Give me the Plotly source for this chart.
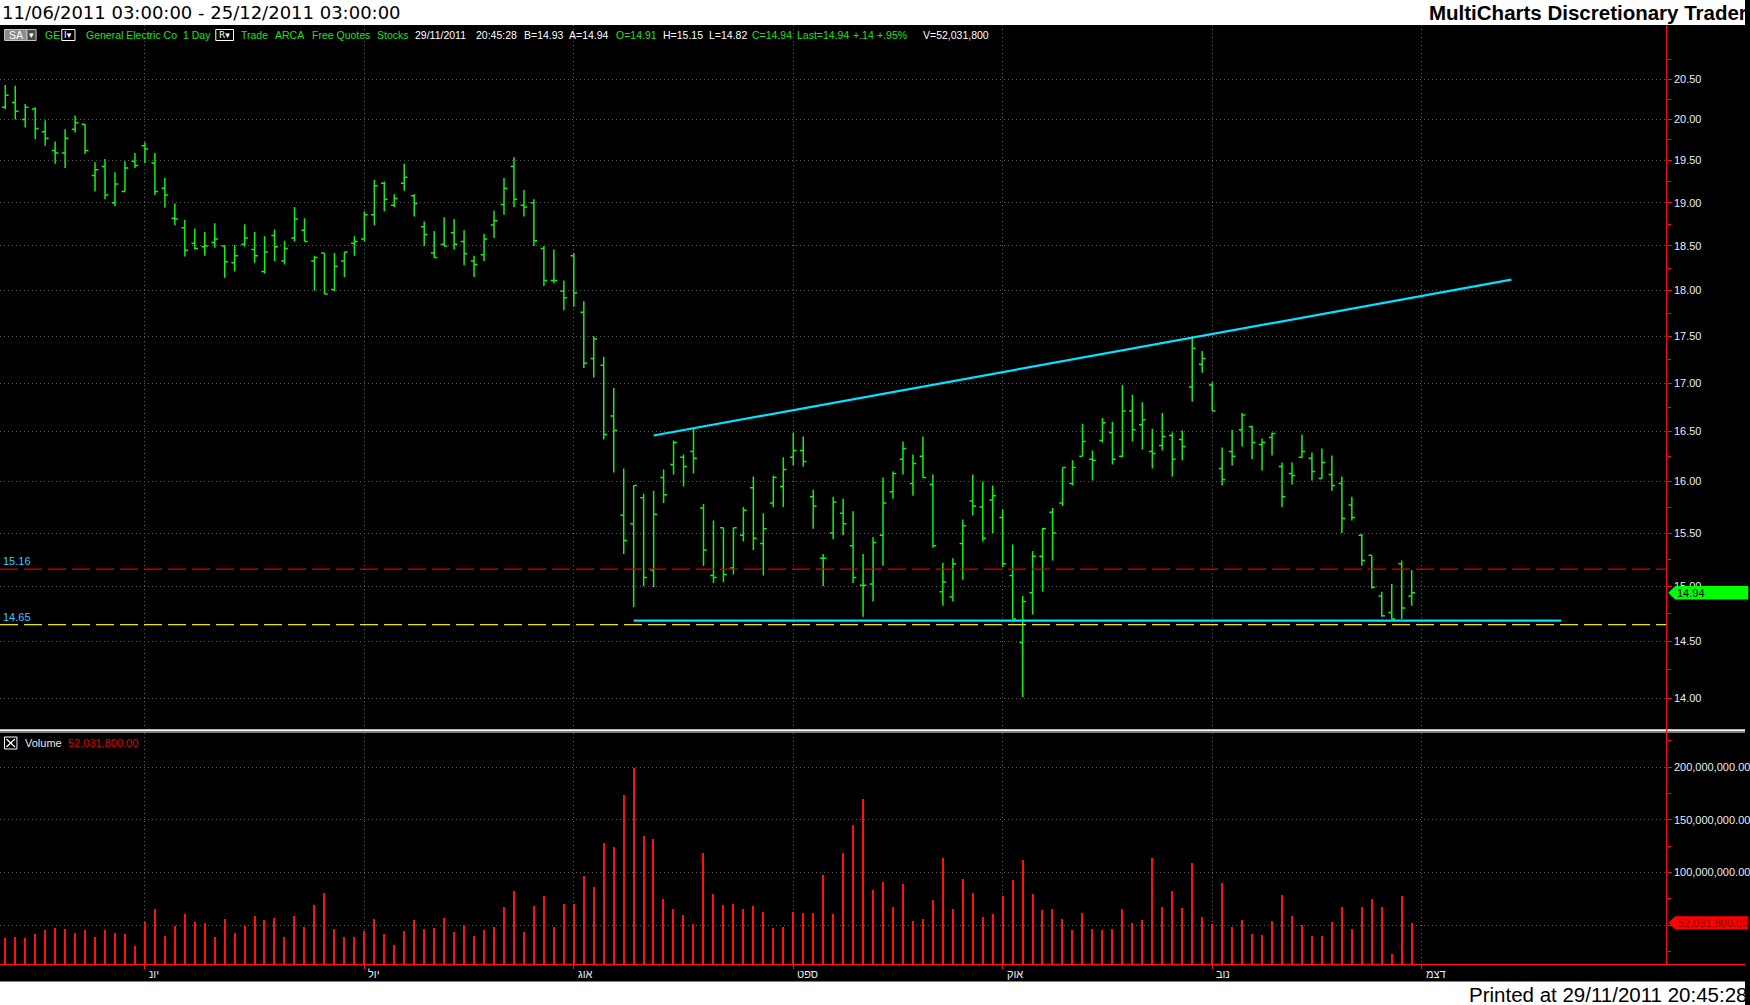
import math
import plotly.graph_objects as go

W, H = 1750, 1005

# ---------------- data ----------------
bar_index = list(range(142))
opens = [20.15, 20.21, 20.00, 20.13, 19.85, 19.62, 19.59, 19.88, 19.94, 19.32,
         19.43, 19.00, 19.13, 19.49, 19.68, 19.47, 19.17, 18.82, 18.71, 18.53,
         18.49, 18.54, 18.50, 18.31, 18.52, 18.46, 18.21, 18.62, 18.33, 18.59,
         18.68, 18.33, 18.42, 18.01, 18.33, 18.53, 18.58, 18.86, 19.23, 18.97,
         19.23, 19.08, 18.72, 18.42, 18.52, 18.65, 18.55, 18.33, 18.40, 18.74,
         18.98, 19.43, 18.97, 19.00, 18.47, 18.11, 17.99, 18.39, 17.76, 17.26,
         17.19, 16.66, 15.67, 15.59, 15.84, 15.15, 16.04, 16.17, 16.24, 16.30,
         15.74, 15.10, 15.55, 15.17, 15.48, 15.94, 15.40, 15.79, 15.95, 16.24,
         16.31, 15.85, 15.26, 15.50, 15.69, 15.38, 15.01, 15.02, 15.48, 15.90,
         16.22, 15.98, 16.25, 15.97, 14.95, 14.90, 15.40, 15.81, 15.75, 15.82,
         15.65, 15.10, 14.49, 14.94, 15.28, 15.70, 15.79, 15.98, 16.25, 16.22,
         16.41, 16.49, 16.25, 16.71, 16.57, 16.30, 16.36, 16.46, 16.42, 16.96,
         17.20, 16.98, 16.13, 16.30, 16.52, 16.55, 16.37, 16.44, 16.15, 16.08,
         16.24, 16.23, 16.03, 16.07, 15.98, 15.77, 15.48, 15.29, 14.91, 14.76,
         15.21, 14.91]
highs = [20.43, 20.42, 20.19, 20.15, 19.99, 19.73, 19.88, 20.05, 19.94, 19.48,
         19.52, 19.36, 19.49, 19.59, 19.72, 19.59, 19.29, 18.99, 18.80, 18.70,
         18.66, 18.76, 18.51, 18.51, 18.75, 18.66, 18.61, 18.69, 18.56, 18.95,
         18.82, 18.39, 18.42, 18.42, 18.43, 18.61, 18.90, 19.27, 19.25, 19.10,
         19.46, 19.10, 18.78, 18.67, 18.83, 18.81, 18.68, 18.39, 18.64, 18.91,
         19.29, 19.54, 19.15, 19.04, 18.50, 18.46, 18.11, 18.42, 17.88, 17.50,
         17.28, 16.95, 16.13, 15.96, 15.88, 15.91, 16.12, 16.41, 16.27, 16.53,
         15.78, 15.62, 15.55, 15.55, 15.75, 16.05, 15.69, 16.06, 16.24, 16.49,
         16.45, 15.92, 15.30, 15.85, 15.83, 15.71, 15.30, 15.46, 16.04, 16.10,
         16.40, 16.27, 16.45, 16.07, 15.22, 15.26, 15.63, 16.07, 16.00, 15.96,
         15.73, 15.39, 14.91, 15.33, 15.55, 15.74, 16.14, 16.21, 16.58, 16.31,
         16.64, 16.60, 16.98, 16.88, 16.80, 16.53, 16.69, 16.49, 16.51, 17.50,
         17.34, 17.01, 16.34, 16.52, 16.69, 16.56, 16.43, 16.49, 16.19, 16.19,
         16.47, 16.29, 16.33, 16.26, 16.05, 15.85, 15.49, 15.29, 14.95, 15.02,
         15.24, 15.15]
lows = [20.13, 20.00, 19.90, 19.76, 19.68, 19.46, 19.41, 19.84, 19.58, 19.13,
        19.04, 18.96, 19.13, 19.41, 19.47, 19.09, 18.94, 18.74, 18.38, 18.46,
        18.39, 18.48, 18.14, 18.21, 18.49, 18.31, 18.19, 18.33, 18.29, 18.55,
        18.55, 18.00, 17.96, 17.99, 18.15, 18.39, 18.55, 18.74, 18.90, 18.95,
        19.14, 18.84, 18.50, 18.37, 18.50, 18.46, 18.28, 18.15, 18.33, 18.59,
        18.86, 18.95, 18.84, 18.50, 18.05, 18.08, 17.78, 17.82, 17.16, 17.06,
        16.42, 16.09, 15.30, 14.81, 15.00, 14.99, 15.79, 16.07, 15.95, 16.08,
        15.19, 15.03, 15.04, 15.11, 15.42, 15.34, 15.10, 15.75, 15.75, 16.16,
        16.15, 15.54, 15.00, 15.44, 15.48, 15.03, 14.72, 14.86, 15.19, 15.83,
        16.07, 15.86, 16.04, 15.36, 14.82, 14.86, 15.06, 15.67, 15.42, 15.50,
        15.18, 14.70, 14.01, 14.74, 14.95, 15.24, 15.76, 15.96, 16.25, 16.01,
        16.39, 16.17, 16.24, 16.40, 16.32, 16.13, 16.31, 16.05, 16.21, 16.81,
        17.11, 16.71, 15.96, 16.16, 16.35, 16.22, 16.11, 16.26, 15.75, 15.97,
        16.23, 16.01, 16.03, 15.91, 15.50, 15.62, 15.19, 14.98, 14.72, 14.70,
        14.70, 14.82]
closes = [20.30, 20.10, 20.15, 19.89, 19.77, 19.59, 19.77, 19.96, 19.62, 19.39,
          19.09, 19.22, 19.41, 19.44, 19.64, 19.13, 19.09, 18.81, 18.45, 18.47,
          18.50, 18.58, 18.32, 18.39, 18.59, 18.39, 18.43, 18.49, 18.47, 18.81,
          18.55, 18.37, 17.96, 18.27, 18.43, 18.55, 18.86, 19.20, 19.04, 19.05,
          19.30, 18.99, 18.63, 18.37, 18.50, 18.52, 18.41, 18.29, 18.58, 18.79,
          19.17, 19.04, 18.95, 18.56, 18.11, 18.11, 17.92, 17.97, 17.21, 17.47,
          16.47, 16.51, 15.43, 15.96, 15.08, 15.68, 15.87, 16.39, 16.15, 16.23,
          15.34, 15.08, 15.11, 15.55, 15.72, 15.45, 15.54, 16.04, 16.12, 16.31,
          16.20, 15.76, 15.26, 15.80, 15.59, 15.08, 15.01, 15.41, 15.79, 16.08,
          16.33, 16.18, 16.04, 15.38, 15.04, 15.21, 15.57, 15.76, 15.45, 15.86,
          15.21, 14.70, 14.86, 15.28, 15.54, 15.50, 16.14, 16.14, 16.40, 16.21,
          16.59, 16.22, 16.71, 16.52, 16.62, 16.28, 16.45, 16.22, 16.35, 17.37,
          17.26, 16.71, 16.02, 16.25, 16.67, 16.39, 16.39, 16.48, 15.85, 16.06,
          16.30, 16.10, 16.19, 15.96, 15.64, 15.65, 15.24, 14.99, 14.73, 14.70,
          14.80, 14.94]
volumes_m = [38.0, 38.9, 38.0, 41.8, 45.6, 47.5, 46.5, 42.7, 45.6, 38.9,
             45.6, 42.7, 41.8, 30.4, 53.2, 65.5, 39.9, 49.4, 60.8, 53.2,
             52.2, 38.9, 56.0, 42.7, 49.4, 58.9, 55.1, 57.0, 38.9, 58.9,
             48.4, 69.3, 80.7, 46.5, 38.9, 38.9, 44.6, 56.0, 41.8, 31.3,
             44.6, 55.1, 46.5, 47.5, 57.0, 43.7, 50.3, 39.9, 45.6, 48.4,
             67.4, 82.6, 43.7, 68.4, 77.8, 48.4, 70.3, 70.3, 96.8, 86.4,
             128.2, 124.4, 173.7, 199.4, 134.8, 132.0, 75.0, 65.5, 59.8, 51.3,
             118.7, 79.7, 69.3, 70.3, 65.5, 68.4, 62.7, 47.5, 48.4, 62.7,
             61.7, 61.7, 97.8, 60.8, 118.7, 145.3, 169.9, 83.5, 91.1, 67.4,
             89.2, 54.1, 56.0, 74.1, 113.9, 65.5, 94.0, 80.7, 57.9, 60.8,
             77.8, 93.0, 112.0, 79.7, 64.6, 65.5, 56.0, 45.6, 61.7, 46.5,
             45.6, 46.5, 65.5, 52.2, 55.1, 113.9, 67.4, 82.6, 66.5, 109.2,
             57.9, 51.3, 90.2, 48.4, 55.1, 41.8, 40.8, 54.1, 78.8, 58.9,
             50.3, 39.9, 39.9, 53.2, 67.4, 46.5, 67.4, 75.0, 67.4, 22.8,
             77.8, 52.0318]
last_volume = 52031800
last_volume_text = "52,031,800.00"

month_ticks = [14, 36, 57, 79, 100, 121, 142]
month_labels = ["יונ", "יול", "אוג", "ספט", "אוק", "נוב", "דצמ"]

price_ticks = [14.0, 14.5, 15.0, 15.5, 16.0, 16.5, 17.0, 17.5, 18.0, 18.5, 19.0, 19.5, 20.0, 20.5]
price_tick_text = ["%.2f" % v for v in price_ticks]
volume_ticks = [50e6, 100e6, 150e6, 200e6]
volume_tick_text = ["", "100,000,000.00", "150,000,000.00", "200,000,000.00"]

level_red = 15.16
level_yellow = 14.65
upper_trend_x = [65, 151]
upper_trend_y = [16.46, 18.12]
lower_trend_x = [63, 156]
lower_trend_y = [14.685, 14.685]
line_x_span = [-0.53, 166.57]

status_tokens = [
    (43.6, "GE", "green"), (83.8, "General Electric Co", "green"), (181.4, "1 Day", "green"),
    (240.0, "Trade", "green"), (273.8, "ARCA", "green"), (310.6, "Free Quotes", "green"),
    (376.0, "Stocks", "green"), (414.5, "29/11/2011", "white"), (475.3, "20:45:28", "white"),
    (523.5, "B=14.93", "white"), (568.9, "A=14.94", "white"), (615.4, "O=14.91", "green"),
    (662.5, "H=15.15", "white"), (709.0, "L=14.82", "white"), (752.6, "C=14.94", "green"),
    (796.8, "Last=14.94", "green"), (853.6, "+.14", "green"), (877.5, "+.95%", "green"),
    (924.0, "V=52,031,800", "white"),
]

# ---------------- helpers ----------------
def px(x):
    return x / W

def py(y):
    return 1 - y / H

GREEN = "#12f012"
ST_GREEN = "#1ee01e"
RED = "#ff1010"
GRID = "#5e5e5e"
CYAN = "#00e4ff"
AXIS_X = 1671.5

price_top, price_bot = 25, 729
vol_top, vol_bot = 733, 964
p_top = 14 * math.exp((698.2 - price_top) / 1622.6)
p_bot = 14 * math.exp((698.2 - price_bot) / 1622.6)

fig = go.Figure()

fig.add_trace(go.Ohlc(
    x=bar_index, open=opens, high=highs, low=lows, close=closes,
    increasing=dict(line=dict(color=GREEN, width=1.5)),
    decreasing=dict(line=dict(color=GREEN, width=1.5)),
    tickwidth=0.33, hoverinfo="skip", xaxis="x", yaxis="y", showlegend=False))

fig.add_trace(go.Scatter(x=line_x_span, y=[level_red, level_red], mode="lines",
                         line=dict(color="#e00000", width=1.3, dash="18px,6px"),
                         hoverinfo="skip", showlegend=False, xaxis="x", yaxis="y"))
fig.add_trace(go.Scatter(x=line_x_span, y=[level_yellow, level_yellow], mode="lines",
                         line=dict(color="#e8e800", width=1.3, dash="18px,6px"),
                         hoverinfo="skip", showlegend=False, xaxis="x", yaxis="y"))
fig.add_trace(go.Scatter(x=upper_trend_x, y=upper_trend_y, mode="lines",
                         line=dict(color=CYAN, width=2.2), hoverinfo="skip",
                         showlegend=False, xaxis="x", yaxis="y"))
fig.add_trace(go.Scatter(x=lower_trend_x, y=lower_trend_y, mode="lines",
                         line=dict(color=CYAN, width=2.2), hoverinfo="skip",
                         showlegend=False, xaxis="x", yaxis="y"))

fig.add_trace(go.Bar(x=bar_index, y=[v * 1e6 for v in volumes_m], width=0.13,
                     marker=dict(color=RED, line=dict(width=0)), hoverinfo="skip",
                     showlegend=False, xaxis="x2", yaxis="y2"))

tickfont = dict(family="Liberation Sans", size=11, color="#e6ecf6")

fig.update_layout(
    width=W, height=H, margin=dict(l=0, r=0, t=0, b=0),
    paper_bgcolor="black", plot_bgcolor="black", showlegend=False,
    xaxis=dict(domain=[0, px(AXIS_X)], range=line_x_span, anchor="y",
               tickvals=month_ticks, showticklabels=False, ticks="",
               showgrid=True, gridcolor=GRID, griddash="1px,3px", gridwidth=1,
               zeroline=False, showline=False, rangeslider=dict(visible=False), fixedrange=True),
    yaxis=dict(domain=[py(price_bot), py(price_top)], type="log",
               range=[math.log10(p_bot), math.log10(p_top)], side="right", anchor="x",
               tickvals=price_ticks, ticktext=price_tick_text, tickfont=tickfont,
               ticks="outside", ticklen=4, tickcolor=RED, tickwidth=1,
               showgrid=True, gridcolor=GRID, griddash="1px,3px", gridwidth=1,
               zeroline=False, showline=False,
               minor=dict(tickvals=[v + 0.25 for v in price_ticks], ticks="outside",
                          ticklen=3, tickcolor=RED, showgrid=False)),
    xaxis2=dict(domain=[0, px(AXIS_X)], range=line_x_span, anchor="y2", matches="x",
                tickvals=month_ticks, showticklabels=False, ticks="outside", ticklen=4,
                tickcolor=RED, showgrid=True, gridcolor=GRID, griddash="1px,3px",
                zeroline=False, showline=False),
    yaxis2=dict(domain=[py(vol_bot), py(vol_top)], range=[12.93e6, 232.5e6],
                side="right", anchor="x2", tickvals=volume_ticks, ticktext=volume_tick_text,
                tickfont=tickfont, ticks="outside", ticklen=4, tickcolor=RED,
                showgrid=True, gridcolor=GRID, griddash="1px,3px", zeroline=False,
                showline=False,
                minor=dict(tickvals=[v - 25e6 for v in volume_ticks] + [225e6], ticks="outside",
                           ticklen=3, tickcolor=RED, showgrid=False)),
    bargap=0,
)

shapes = []
# white title band and bottom band
shapes.append(dict(type="rect", xref="paper", yref="paper", x0=0, x1=1, y0=py(25), y1=1,
                   fillcolor="white", line=dict(width=0), layer="above"))
shapes.append(dict(type="rect", xref="paper", yref="paper", x0=0, x1=1, y0=0, y1=py(981.5),
                   fillcolor="white", line=dict(width=0), layer="above"))
# pane separator
shapes.append(dict(type="rect", xref="paper", yref="paper", x0=0, x1=1, y0=py(731.5), y1=py(729.3),
                   fillcolor="#f4f4f4", line=dict(width=0), layer="above"))
shapes.append(dict(type="line", xref="paper", yref="paper", x0=0, x1=1, y0=py(732.3), y1=py(732.3),
                   line=dict(color="#9a9a9a", width=1), layer="above"))
# red baseline and axis line
shapes.append(dict(type="line", xref="paper", yref="paper", x0=0, x1=1, y0=py(964.5), y1=py(964.5),
                   line=dict(color=RED, width=1.3), layer="above"))
shapes.append(dict(type="line", xref="paper", yref="paper", x0=px(AXIS_X), x1=px(AXIS_X),
                   y0=py(964.5), y1=py(25), line=dict(color=RED, width=1.3), layer="above"))
# last price marker (green)
shapes.append(dict(type="path", xref="paper", yref="y", xsizemode="pixel", ysizemode="pixel",
                   xanchor=px(1673), yanchor=closes[-1],
                   path="M0,0 L7,6.7 L80,6.7 L80,-6.7 L7,-6.7 Z",
                   fillcolor="#00ff00", line=dict(width=0), layer="above"))
# last volume marker (red)
shapes.append(dict(type="path", xref="paper", yref="y2", xsizemode="pixel", ysizemode="pixel",
                   xanchor=px(1673), yanchor=last_volume,
                   path="M0,0 L7,6.7 L80,6.7 L80,-6.7 L7,-6.7 Z",
                   fillcolor="#ff0000", line=dict(width=0), layer="above"))
# status bar boxes
shapes.append(dict(type="rect", xref="paper", yref="paper", x0=px(4.6), x1=px(27), y0=py(40.5), y1=py(29.5),
                   fillcolor="#8c8c8c", line=dict(color="#c8c8c8", width=1), layer="above"))
shapes.append(dict(type="rect", xref="paper", yref="paper", x0=px(27), x1=px(36.2), y0=py(40.5), y1=py(29.5),
                   fillcolor="#4a4a4a", line=dict(color="#c8c8c8", width=1), layer="above"))
shapes.append(dict(type="rect", xref="paper", yref="paper", x0=px(62), x1=px(75.2), y0=py(40.5), y1=py(29.5),
                   fillcolor="black", line=dict(color="white", width=1), layer="above"))
shapes.append(dict(type="rect", xref="paper", yref="paper", x0=px(216.4), x1=px(234.2), y0=py(40.5), y1=py(29.5),
                   fillcolor="black", line=dict(color="white", width=1), layer="above"))
# volume legend checkbox
shapes.append(dict(type="rect", xref="paper", yref="paper", x0=px(4.5), x1=px(17), y0=py(749), y1=py(737),
                   fillcolor="black", line=dict(color="white", width=1), layer="above"))
shapes.append(dict(type="line", xref="paper", yref="paper", x0=px(6.5), x1=px(15), y0=py(747), y1=py(739),
                   line=dict(color="white", width=1.2), layer="above"))
shapes.append(dict(type="line", xref="paper", yref="paper", x0=px(6.5), x1=px(15), y0=py(739), y1=py(747),
                   line=dict(color="white", width=1.2), layer="above"))
fig.update_layout(shapes=shapes)

ann = []
ann.append(dict(xref="paper", yref="paper", x=px(0.5), y=py(12.5), xanchor="left", yanchor="middle",
                text="11/06/2011 03:00:00 - 25/12/2011 03:00:00", showarrow=False,
                font=dict(family="DejaVu Sans", size=18, color="black")))
ann.append(dict(xref="paper", yref="paper", x=px(1750), y=py(12.5), xanchor="right", yanchor="middle",
                xshift=4, text="<b>MultiCharts Discretionary Trader</b>", showarrow=False,
                font=dict(family="Liberation Sans", size=20.5, color="black")))
ann.append(dict(xref="paper", yref="paper", x=px(1750), y=py(994), xanchor="right", yanchor="middle",
                xshift=5, text="Printed at 29/11/2011 20:45:28", showarrow=False,
                font=dict(family="Liberation Sans", size=20.5, color="black")))
stfont = "Liberation Sans"
for x, t, c in status_tokens:
    ann.append(dict(xref="paper", yref="paper", x=px(x), y=py(35), xanchor="left", yanchor="middle",
                    text=t, showarrow=False,
                    font=dict(family=stfont, size=10.5, color=ST_GREEN if c == "green" else "white")))
ann.append(dict(xref="paper", yref="paper", x=px(15.8), y=py(35), xanchor="center", yanchor="middle",
                text="SA", showarrow=False, font=dict(family=stfont, size=10.5, color="white")))
ann.append(dict(xref="paper", yref="paper", x=px(31.6), y=py(35), xanchor="center", yanchor="middle",
                text="▾", showarrow=False, font=dict(family="DejaVu Sans", size=9, color="white")))
ann.append(dict(xref="paper", yref="paper", x=px(68.6), y=py(35), xanchor="center", yanchor="middle",
                text="I▾", showarrow=False, font=dict(family="DejaVu Sans", size=9, color="white")))
ann.append(dict(xref="paper", yref="paper", x=px(225.3), y=py(35), xanchor="center", yanchor="middle",
                text="R▾", showarrow=False, font=dict(family="DejaVu Sans", size=9, color="white")))
# volume legend
ann.append(dict(xref="paper", yref="paper", x=px(23.5), y=py(743), xanchor="left", yanchor="middle",
                text="Volume", showarrow=False, font=dict(family=stfont, size=11, color="#e6ecf6")))
ann.append(dict(xref="paper", yref="paper", x=px(66.5), y=py(743), xanchor="left", yanchor="middle",
                text=last_volume_text, showarrow=False, font=dict(family=stfont, size=11, color="#e00000")))
# level labels
ann.append(dict(xref="paper", yref="y", x=px(1), y=math.log10(level_red), yshift=8, xanchor="left",
                yanchor="middle", text="%.2f" % level_red, showarrow=False,
                font=dict(family=stfont, size=11, color="#3cc8ff")))
ann.append(dict(xref="paper", yref="y", x=px(1), y=math.log10(level_yellow), yshift=8, xanchor="left",
                yanchor="middle", text="%.2f" % level_yellow, showarrow=False,
                font=dict(family=stfont, size=11, color="#3cc8ff")))
# last value labels
ann.append(dict(xref="paper", yref="y", x=px(1680), y=math.log10(closes[-1]), xanchor="left",
                yanchor="middle", text="%.2f" % closes[-1], showarrow=False,
                font=dict(family=stfont, size=11, color="black")))
ann.append(dict(xref="paper", yref="y2", x=px(1681), y=last_volume, xanchor="left",
                yanchor="middle", text=last_volume_text, showarrow=False,
                font=dict(family=stfont, size=11, color="#8a0000")))
# month labels
for t, lab in zip(month_ticks, month_labels):
    ann.append(dict(xref="x2", yref="paper", x=t, y=py(974), xanchor="left", yanchor="middle",
                    xshift=2, text=lab, showarrow=False,
                    font=dict(family=stfont, size=11, color="#e6ecf6")))
fig.update_layout(annotations=ann)

fig.write_html("out.html", config={"displayModeBar": False},
               post_script="document.body.style.margin='0px';document.body.style.overflow='hidden';")
